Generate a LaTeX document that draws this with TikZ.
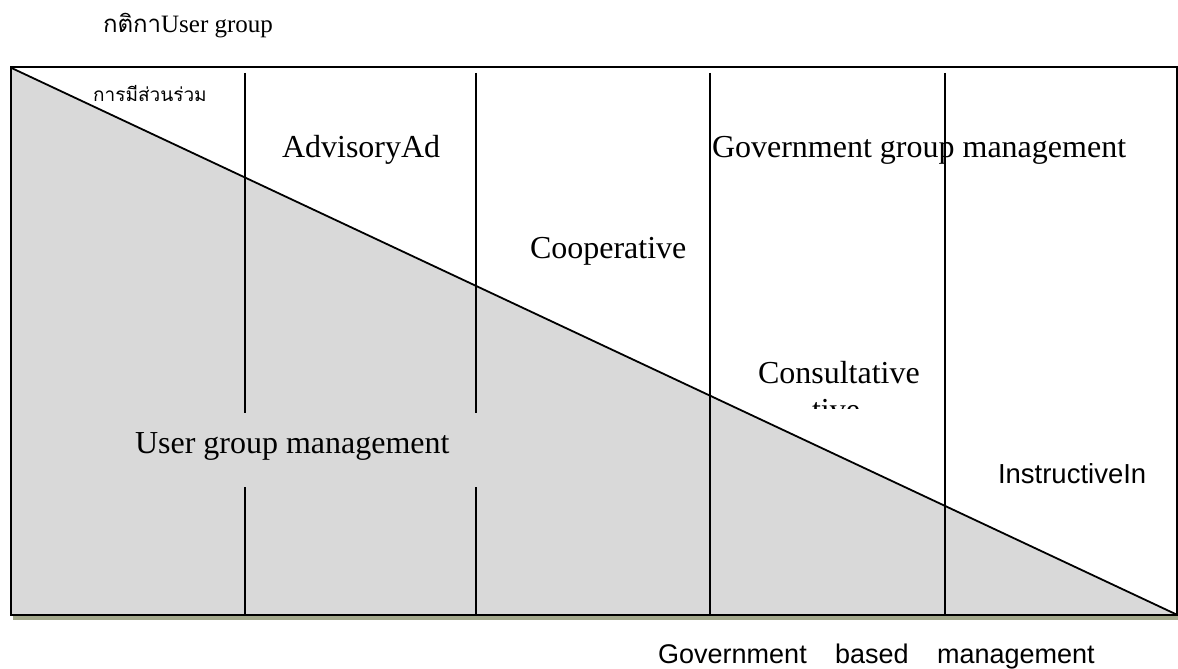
\documentclass[tikz,border=0pt]{standalone}
\usepackage{fontspec}
\setmainfont{Liberation Serif}
\newfontfamily\thaifont[Script=Thai]{Loma}
\newfontfamily\arialfont{Liberation Sans}
\definecolor{fillgray}{HTML}{D9D9D9}
\definecolor{shadowc}{RGB}{163,168,140}
\begin{document}
\begin{tikzpicture}[x=1bp,y=-1bp,
  lbl/.style={inner sep=0pt,outer sep=0pt,anchor=base west,font=\fontsize{32bp}{37bp}\selectfont},
  slbl/.style={inner sep=0pt,outer sep=0pt,anchor=base west,font=\arialfont\fontsize{27.5bp}{33bp}\selectfont},
  frame/.style={line width=2bp,draw=black},
  divider/.style={line width=2.8bp,draw=black},
  diag/.style={line width=1.8bp,draw=black}]
\useasboundingbox (0,0) rectangle (1178,669);
% shadow
\fill[shadowc] (13,614) rectangle (1178,620);
% box
\fill[white] (10.5,67.5) rectangle (1176.5,614.5);
\fill[fillgray] (10.5,67.5) -- (1176.5,614.5) -- (10.5,614.5) -- cycle;
\coordinate (tl) at (10.5,67.5);
\coordinate (br) at (1176.5,614.5);
\draw[diag] (tl) -- (br);
% dividers
\draw[divider] (245,73) -- (245,413);
\draw[divider] (245,487) -- (245,614);
\draw[divider] (476,73) -- (476,413);
\draw[divider] (476,487) -- (476,614);
\draw[divider] (710,73) -- (710,614);
\draw[divider] (945,73) -- (945,614);
\draw[frame] (tl) rectangle (br);
% texts
\node[lbl,font=\fontsize{25bp}{29bp}\selectfont] (title) at (103,33) {{\thaifont\fontsize{24bp}{29bp}\selectfont กติกา}User group};
\node[inner sep=0pt,anchor=base west,font=\thaifont\fontsize{19bp}{22bp}\selectfont] (part) at (93,102) {การมีส่วนร่วม};
\node[lbl] (adv) at (282,158) {AdvisoryAd};
\node[lbl] (gov) at (712,158) {Government group management};
\node[lbl] (coop) at (530,258) {Cooperative};
\node[lbl] (cons) at (758,383) {Consultative};
\begin{scope}
\clip (740,395) rectangle (940,408);
\node[lbl] (tive) at (812,420) {tive};
\end{scope}
\node[lbl] (user) at (135,453) {User group management};
\node[slbl] (instr) at (998,483) {InstructiveIn};
\node[inner sep=0pt,anchor=base west,font=\arialfont\fontsize{27bp}{32bp}\selectfont] (gbm) at (658,663) {Government\hspace{1.05em}based\hspace{1.05em}management};
\end{tikzpicture}
\end{document}
